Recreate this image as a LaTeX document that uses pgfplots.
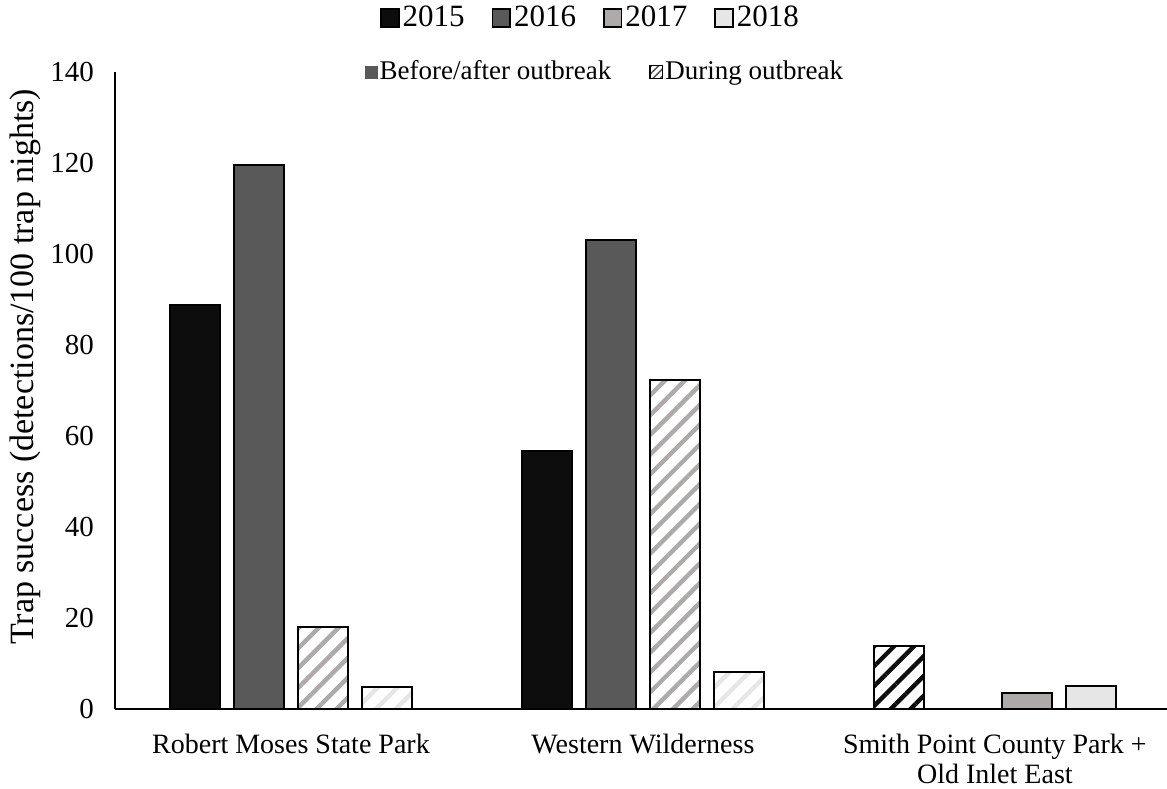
\documentclass[border=0pt]{standalone}
\usepackage{fontspec}
\setmainfont{Liberation Serif}
\usepackage{pgfplots}
\pgfplotsset{compat=1.18}
\usetikzlibrary{patterns.meta}

\definecolor{c2015}{HTML}{0D0D0D}
\definecolor{c2016}{HTML}{595959}
\definecolor{c2017}{HTML}{AEAAAA}
\definecolor{c2018}{HTML}{E7E6E6}

\tikzset{
  trapbar/.style={ybar, bar width=0.142, bar shift=0pt, draw=black, line width=1pt},
  hatch/.style={pattern={Lines[angle=45,distance=7pt,line width=2.2pt]}, pattern color=#1},
}

\begin{document}
\begin{tikzpicture}
\useasboundingbox (0,0) rectangle (583.5pt,394pt);
\begin{axis}[
  at={(57.5pt,39.5pt)}, anchor=south west,
  scale only axis, width=526pt, height=318.5pt,
  xmin=-0.5, xmax=2.489, ymin=0, ymax=140,
  axis x line*=bottom, axis y line*=left,
  axis line style={line width=1pt},
  major tick length=0pt,
  ytick={0,20,...,140},
  xtick={0,1,2},
  xticklabels={Robert Moses State Park, Western Wilderness, {Smith Point County Park +\\Old Inlet East}},
  xticklabel style={align=center, yshift=-9pt, font=\fontsize{14}{15}\selectfont},
  yticklabel style={xshift=-7pt, font=\fontsize{14.5}{16}\selectfont},
  /pgf/number format/assume math mode=true,
  ylabel={Trap success (detections/100 trap nights)},
  every axis y label/.style={at={(axis description cs:-0.0856,0.537)}, rotate=90, anchor=center,
    font=\fontsize{17}{19}\selectfont},
  legend columns=4,
  legend style={draw=none, fill=none, at={(axis description cs:0.4525,1.0848)}, anchor=center,
    font=\fontsize{15.5}{18}\selectfont,
    nodes={inner sep=1.5pt},
    /tikz/every even column/.append style={column sep=12pt}},
  legend image code/.code={\draw[#1, line width=0.9pt] (0pt,-4.4pt) rectangle (8.8pt,4.4pt);},
]
% solid bars: before/after the outbreak
\addplot[trapbar, fill=c2015] coordinates {(-0.2727,88.9) (0.7273,56.7)};
\addplot[trapbar, fill=c2016] coordinates {(-0.0909,119.6) (0.9091,103.1)};
\addplot[trapbar, fill=c2017] coordinates {(2.0909,3.5)};
\addplot[trapbar, fill=c2018] coordinates {(2.2727,5.1)};
% hatched bars: during the outbreak
\addplot[trapbar, fill=white, hatch=c2017] coordinates {(0.0909,18.0) (1.0909,72.3)};
\addplot[trapbar, fill=white, hatch=c2018] coordinates {(0.2727,4.8) (1.2727,8.1)};
\addplot[trapbar, fill=white, hatch=c2015] coordinates {(1.7273,13.8)};
\legend{}
\addlegendimage{fill=c2015, draw=black}
\addlegendentry{2015}
\addlegendimage{fill=c2016, draw=black}
\addlegendentry{2016}
\addlegendimage{fill=c2017, draw=black}
\addlegendentry{2017}
\addlegendimage{fill=c2018, draw=black}
\addlegendentry{2018}
\end{axis}
% outbreak-period key
\begin{axis}[
  at={(57.5pt,39.5pt)}, anchor=south west,
  scale only axis, width=526pt, height=318.5pt,
  xmin=0, xmax=1, ymin=0, ymax=1, hide axis,
  legend columns=2,
  legend style={draw=none, fill=none, at={(axis description cs:0.4658,1.0)}, anchor=center,
    font=\fontsize{13.5}{16}\selectfont,
    nodes={inner sep=1pt},
    /tikz/every even column/.append style={column sep=18pt}},
]
\addlegendimage{legend image code/.code={\fill[c2016] (0pt,-3pt) rectangle (6pt,3pt);}}
\addlegendentry{Before/after outbreak}
\addlegendimage{legend image code/.code={\draw[line width=0.6pt, pattern={Lines[angle=45,distance=2.5pt,line width=0.7pt]}, pattern color=black!70] (0pt,-3.2pt) rectangle (6.4pt,3.2pt);}}
\addlegendentry{During outbreak}
\end{axis}
\end{tikzpicture}
\end{document}
